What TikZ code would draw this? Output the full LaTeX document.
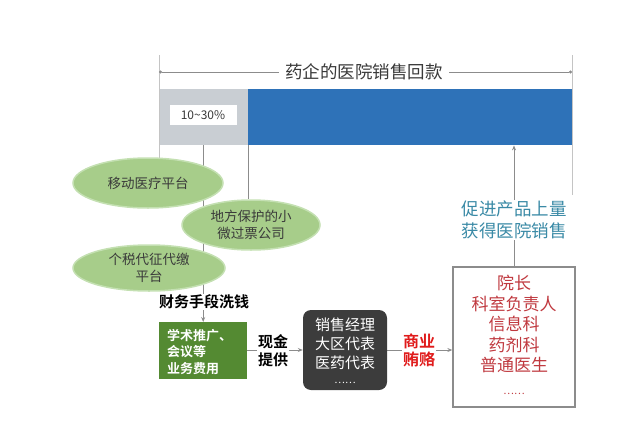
\documentclass[tikz,border=0pt]{standalone}
\usepackage{fontspec}
\setmainfont{Noto Sans CJK SC}[BoldFont={Noto Sans CJK SC Bold}]
\usetikzlibrary{arrows.meta,backgrounds,shapes.geometric}
\definecolor{barblue}{HTML}{2E72B8}
\definecolor{bargray}{HTML}{C9CED3}
\definecolor{ellgreen}{HTML}{A7CD8A}
\definecolor{ellrim}{HTML}{C4E0B2}
\definecolor{boxgreen}{HTML}{548A32}
\definecolor{boxdark}{HTML}{3C3C3C}
\definecolor{linegray}{HTML}{8C8C8C}
\definecolor{ticklight}{HTML}{C4C4C4}
\definecolor{hospred}{HTML}{C0393F}
\definecolor{bribered}{HTML}{E01B1B}
\definecolor{tealtext}{HTML}{3A8AA6}
\definecolor{txtdark}{HTML}{3A3A3A}
\tikzset{
  fs/.style={font=\fontsize{#1}{#1}\selectfont},
  ell/.style={ellipse, fill=ellgreen, draw=ellrim, line width=1.5pt, inner sep=0pt,
    text=txtdark, align=center, font=\fontsize{13.5}{17}\selectfont},
  conn/.style={draw=linegray, line width=1pt},
  arr/.style={conn, -{Stealth[length=5pt,width=4pt]}},
  tick/.style={draw=ticklight, line width=0.8pt},
  lbl/.style={fill=white, inner sep=1pt, align=center}
}
\begin{document}
\begin{tikzpicture}[x=1pt,y=-1pt]
\useasboundingbox (0,0) rectangle (640,434);
% bar
\node[fill=bargray, minimum width=88pt, minimum height=56pt, inner sep=0pt, anchor=north west] (gray) at (160,89) {};
\node[fill=barblue, minimum width=324pt, minimum height=56pt, inner sep=0pt, anchor=north west] (blue) at (248,89) {};
\node[fill=white, minimum width=67pt, minimum height=20pt, inner sep=0pt, text=txtdark,
  font=\fontsize{12}{12}\selectfont] (pct) at (203,115) {10\textasciitilde30\%};
% dimension
\coordinate (dl) at (159,72);
\coordinate (dr) at (572,72);
\coordinate (tlt) at (159,55);
\coordinate (tlb) at (159,192);
\coordinate (trt) at (572,55);
\coordinate (trb) at (572,195);
\begin{scope}[on background layer]
\draw[tick] (tlt) -- (tlb);
\draw[tick] (trt) -- (trb);
\draw[draw=linegray, line width=0.8pt, {Circle[length=3pt]}-{Circle[length=3pt]}] (dl) -- (dr);
\end{scope}
\node[lbl, text=txtdark, font=\fontsize{17.5}{17.5}\selectfont, inner xsep=6pt] (title) at (364,72) {药企的医院销售回款};
% ellipses
\node[ell, minimum width=150pt, minimum height=50pt] (e1) at (148,183) {移动医疗平台};
\node[ell, minimum width=138pt, minimum height=50pt] (e2) at (251,225) {地方保护的小\\微过票公司};
\node[ell, minimum width=152pt, minimum height=46pt] (e3) at (149,268) {个税代征代缴\\平台};
% laundering label
\node[lbl, font=\bfseries\fontsize{15}{15}\selectfont] (wash) at (204,302) {财务手段洗钱};
% green box
\node[fill=boxgreen, minimum width=88pt, minimum height=57pt, inner sep=0pt, anchor=north west] (green) at (159,322) {};
\node[anchor=west, text=white, align=left, font=\bfseries\fontsize{13}{16.5}\selectfont, inner sep=0pt] (greent) at (167,352) {学术推广、\\会议等\\业务费用};
% dark box
\node[fill=boxdark, rounded corners=8pt, minimum width=84pt, minimum height=80pt, inner sep=0pt] (dark) at (345,350) {};
\node[text=white, align=center, font=\fontsize{15}{19}\selectfont, inner sep=0pt] (darkt) at (345,351) {销售经理\\大区代表\\医药代表\\[-4pt]{\fontsize{10}{10}\selectfont ……}};
% hospital box
\node[draw=linegray, fill=white, line width=1.3pt, minimum width=122pt, minimum height=140pt, inner sep=0pt] (hosp) at (514,337) {};
\node[text=hospred, align=center, font=\fontsize{17}{20.5}\selectfont, inner sep=0pt] (hospt) at (514,335) {院长\\科室负责人\\信息科\\药剂科\\普通医生\\[2pt]{\fontsize{10}{10}\selectfont ……}};
% connectors
\begin{scope}[on background layer]
\draw[arr] (green.north |- gray.south) -- (green.north);
\draw[conn] (gray.south east) -- (gray.south east |- e2.north);
\draw[arr] (green.east |- dark.west) -- (dark.west);
\draw[arr] (dark.east) -- (hosp.west |- dark.east);
\draw[arr] (hosp.north) -- (hosp.north |- blue.south);
\end{scope}
\node[lbl, font=\bfseries\fontsize{15}{18}\selectfont] (cash) at (273,351) {现金\\提供};
\node[lbl, text=bribered, font=\bfseries\fontsize{16}{18}\selectfont] (bribe) at (419,350) {商业\\贿赂};
\node[lbl, text=tealtext, font=\fontsize{17.5}{22}\selectfont] (promo) at (514,220) {促进产品上量\\获得医院销售};
\end{tikzpicture}
\end{document}
